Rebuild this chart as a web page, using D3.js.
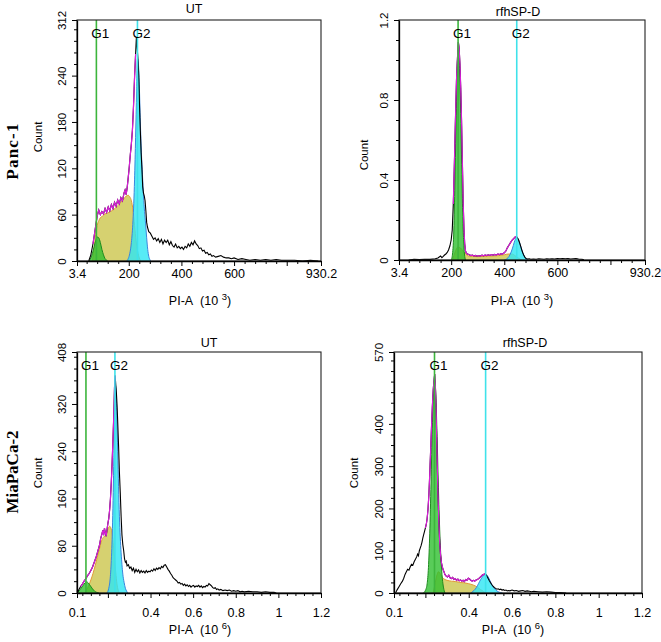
<!DOCTYPE html>
<html><head><meta charset="utf-8">
<script src="https://cdn.jsdelivr.net/npm/d3@7"></script>
<style>
body{margin:0;background:#fff}
svg{display:block}
text{font-family:"Liberation Sans",Arial,sans-serif;fill:#000}
</style>
</head><body>
<svg id="c" width="661" height="642"></svg>
<script>
// ---------------- DATA ----------------
// Panc-1, untreated (x in 10^3)
const panc1UT_hist = [[48,0],[56,8],[64,22],[72,40],[80,58],[86,66],[92,60],[98,64],[104,61],[110,68],[116,63],[122,70],[128,65],[134,73],[140,68],[146,76],[152,71],[158,79],[164,74],[170,82],[176,78],[182,88],[186,92],[190,86],[194,95],[198,108],[202,122],[206,138],[210,152],[214,170],[218,200],[222,238],[226,268],[229,290],[232,275],[235,262],[238,240],[241,200],[244,168],[247,140],[250,120],[253,96],[256,88],[259,84],[262,78],[265,65],[268,50],[271,44],[276,38],[282,36],[288,32],[294,28],[300,30],[306,26],[312,29],[318,24],[324,28],[330,22],[336,27],[342,24],[348,27],[354,21],[360,25],[366,20],[372,18],[378,22],[384,17],[390,19],[396,16],[402,18],[408,15],[414,19],[420,17],[426,22],[432,19],[438,24],[444,21],[450,26],[456,22],[462,20],[468,16],[474,17],[480,13],[486,14],[492,10],[498,11],[504,8],[510,9],[516,6],[522,7],[530,5],[540,6],[550,7],[560,5],[570,4],[580,4],[590,3],[600,4],[615,2],[630,3],[645,2],[660,1],[680,2],[700,1],[720,2],[740,1],[760,2],[780,1],[800,1],[830,1],[860,0],[890,1],[920,0]];
const panc1UT_fitRange = [58, 227];
const panc1UT_g1 = [[50,0],[56,4],[62,10],[68,18],[74,26],[80,31],[86,30],[92,24],[98,15],[104,8],[110,3],[116,1],[120,0]];
const panc1UT_s = [[62,0],[68,16],[74,34],[80,46],[86,52],[92,56],[100,58],[110,61],[120,62],[130,64],[140,66],[150,69],[160,72],[170,76],[180,80],[190,84],[198,85],[204,83],[210,78],[216,66],[222,46],[228,26],[234,12],[240,4],[246,0]];
const panc1UT_g2 = [[192,0],[198,3],[204,10],[210,24],[216,52],[222,105],[226,160],[230,220],[233,262],[236,258],[240,228],[244,180],[248,140],[252,112],[256,84],[260,64],[264,48],[268,30],[272,15],[276,6],[280,2],[284,0]];
const panc1UT_gates = [77, 233];

// Panc-1, rfhSP-D (x in 10^3)
const panc1SP_hist = [[40,0],[60,0.003],[80,0.002],[100,0.004],[120,0.003],[140,0.006],[150,0.01],[160,0.02],[165,0.012],[170,0.018],[175,0.025],[180,0.03],[185,0.038],[190,0.05],[195,0.07],[200,0.1],[204,0.15],[208,0.28],[212,0.48],[216,0.7],[220,0.9],[224,1.02],[227,1.09],[230,1.06],[233,0.98],[236,0.86],[239,0.7],[242,0.5],[245,0.3],[248,0.16],[251,0.08],[254,0.045],[258,0.032],[262,0.03],[268,0.026],[274,0.022],[280,0.024],[286,0.02],[292,0.023],[298,0.019],[304,0.022],[310,0.02],[316,0.024],[322,0.021],[328,0.025],[334,0.022],[340,0.026],[346,0.023],[352,0.027],[358,0.024],[364,0.028],[370,0.025],[376,0.03],[382,0.027],[388,0.032],[394,0.03],[400,0.036],[406,0.045],[412,0.062],[418,0.075],[424,0.088],[430,0.1],[436,0.108],[442,0.116],[446,0.118],[450,0.11],[454,0.1],[458,0.085],[462,0.068],[466,0.05],[470,0.035],[474,0.022],[478,0.013],[482,0.008],[488,0.005],[494,0.006],[500,0.004],[510,0.005],[520,0.004],[530,0.006],[540,0.005],[550,0.004],[560,0.006],[570,0.005],[580,0.006],[590,0.005],[600,0.007],[610,0.006],[620,0.007],[630,0.006],[640,0.007],[650,0.005],[660,0.006],[670,0.007],[680,0.005],[690,0.004],[700,0.002]];
const panc1SP_fitRange = [205, 447];
const panc1SP_g1 = [[200,0],[205,0.03],[210,0.15],[214,0.38],[218,0.65],[222,0.92],[226,1.05],[229,1.04],[232,0.94],[235,0.78],[238,0.58],[241,0.38],[244,0.2],[247,0.09],[250,0.03],[254,0]];
const panc1SP_s = [[205,0],[215,0.04],[225,0.065],[235,0.06],[245,0.045],[255,0.03],[265,0.02],[280,0.018],[300,0.017],[320,0.018],[340,0.019],[360,0.02],[380,0.022],[400,0.026],[415,0.03],[430,0.03],[440,0.022],[450,0.012],[460,0.004],[466,0]];
const panc1SP_g2 = [[400,0],[410,0.006],[418,0.018],[426,0.04],[434,0.072],[440,0.098],[446,0.112],[452,0.106],[458,0.085],[464,0.06],[470,0.036],[476,0.018],[482,0.007],[490,0]];
const panc1SP_gates = [226, 447];

// MiaPaCa-2, untreated (x in 10^6)
const miaUT_hist = [[0.056,0],[0.064,6],[0.072,11],[0.08,15],[0.088,20],[0.096,24],[0.104,29],[0.112,33],[0.12,38],[0.128,44],[0.136,52],[0.144,60],[0.152,70],[0.16,80],[0.166,92],[0.172,100],[0.176,106],[0.18,98],[0.184,110],[0.188,102],[0.192,96],[0.196,108],[0.2,118],[0.204,126],[0.208,140],[0.212,160],[0.216,188],[0.22,222],[0.224,262],[0.228,305],[0.231,348],[0.234,368],[0.237,352],[0.24,338],[0.243,318],[0.246,290],[0.25,250],[0.254,205],[0.258,170],[0.262,130],[0.266,98],[0.27,82],[0.274,72],[0.278,58],[0.282,52],[0.286,54],[0.29,46],[0.296,48],[0.302,42],[0.308,44],[0.314,38],[0.32,42],[0.326,35],[0.332,40],[0.338,36],[0.344,39],[0.35,34],[0.356,38],[0.362,35],[0.368,37],[0.374,34],[0.38,38],[0.386,35],[0.392,37],[0.398,36],[0.404,39],[0.41,37],[0.416,41],[0.422,38],[0.428,42],[0.434,40],[0.44,43],[0.446,41],[0.452,45],[0.458,43],[0.464,47],[0.47,48],[0.476,44],[0.482,40],[0.488,37],[0.494,33],[0.5,30],[0.506,26],[0.512,24],[0.518,22],[0.524,20],[0.53,17],[0.536,18],[0.542,15],[0.548,16],[0.554,13],[0.56,15],[0.566,12],[0.572,14],[0.578,11],[0.584,13],[0.59,10],[0.596,12],[0.602,13],[0.608,10],[0.614,12],[0.62,11],[0.626,13],[0.632,10],[0.638,12],[0.644,9],[0.65,11],[0.656,10],[0.662,13],[0.668,12],[0.674,16],[0.68,14],[0.686,12],[0.692,9],[0.698,8],[0.704,9],[0.71,6],[0.716,7],[0.722,5],[0.73,6],[0.74,4],[0.75,5],[0.76,4],[0.77,5],[0.78,3],[0.79,4],[0.8,3],[0.81,4],[0.82,2],[0.83,3],[0.84,2],[0.86,3],[0.88,2],[0.9,2],[0.92,1],[0.94,2],[0.96,1],[0.98,1],[0.99,0]];
const miaUT_fitRange = [0.068, 0.235];
const miaUT_g1 = [[0.056,0],[0.07,6],[0.082,12],[0.092,17],[0.1,19],[0.108,17],[0.118,12],[0.128,7],[0.138,3],[0.148,1],[0.158,0]];
const miaUT_s = [[0.09,0],[0.1,5],[0.11,13],[0.12,22],[0.13,33],[0.14,46],[0.15,60],[0.16,74],[0.17,88],[0.18,95],[0.19,98],[0.2,108],[0.208,113],[0.214,110],[0.22,100],[0.226,80],[0.232,55],[0.238,30],[0.244,12],[0.25,3],[0.256,0]];
const miaUT_g2 = [[0.196,0],[0.204,8],[0.21,22],[0.216,55],[0.222,120],[0.228,230],[0.232,320],[0.235,352],[0.238,345],[0.242,300],[0.246,240],[0.25,180],[0.254,130],[0.258,95],[0.262,68],[0.266,48],[0.27,32],[0.276,18],[0.282,8],[0.288,3],[0.294,0]];
const miaUT_gates = [0.097, 0.233];

// MiaPaCa-2, rfhSP-D (x in 10^6)
const miaSP_hist = [[0.062,0],[0.07,8],[0.078,15],[0.086,22],[0.094,28],[0.1,35],[0.106,44],[0.112,50],[0.118,56],[0.124,54],[0.13,62],[0.136,68],[0.142,66],[0.148,74],[0.154,80],[0.16,86],[0.164,92],[0.168,88],[0.172,100],[0.176,106],[0.18,112],[0.184,120],[0.188,130],[0.192,138],[0.196,146],[0.2,154],[0.204,162],[0.208,176],[0.212,198],[0.216,232],[0.22,280],[0.224,335],[0.228,390],[0.232,440],[0.236,480],[0.24,505],[0.243,518],[0.246,490],[0.249,440],[0.252,370],[0.255,300],[0.258,235],[0.262,170],[0.266,120],[0.27,90],[0.274,72],[0.278,62],[0.282,55],[0.286,50],[0.29,44],[0.296,40],[0.302,38],[0.308,42],[0.314,36],[0.32,34],[0.326,37],[0.332,32],[0.338,34],[0.344,30],[0.35,33],[0.356,29],[0.362,31],[0.368,28],[0.374,30],[0.38,27],[0.386,32],[0.392,30],[0.398,35],[0.404,33],[0.41,30],[0.416,28],[0.422,30],[0.428,28],[0.434,31],[0.44,32],[0.446,34],[0.452,37],[0.458,40],[0.464,43],[0.47,44],[0.476,46],[0.482,42],[0.488,36],[0.494,30],[0.5,25],[0.506,20],[0.512,16],[0.518,13],[0.524,11],[0.53,9],[0.536,10],[0.542,8],[0.548,9],[0.554,7],[0.56,8],[0.566,6],[0.572,7],[0.578,5],[0.584,6],[0.59,5],[0.6,7],[0.61,5],[0.62,6],[0.63,4],[0.64,5],[0.65,6],[0.66,4],[0.67,5],[0.68,4],[0.69,3],[0.7,4],[0.72,3],[0.74,2],[0.76,3],[0.78,2],[0.8,1],[0.82,1],[0.85,0]];
const miaSP_fitRange = [0.198, 0.478];
const miaSP_g1 = [[0.19,0],[0.2,6],[0.208,22],[0.214,60],[0.22,140],[0.226,260],[0.232,390],[0.238,480],[0.243,505],[0.248,470],[0.254,370],[0.26,250],[0.266,150],[0.272,80],[0.278,35],[0.284,12],[0.29,0]];
const miaSP_s = [[0.236,0],[0.244,20],[0.252,40],[0.26,50],[0.266,48],[0.272,42],[0.28,36],[0.29,32],[0.3,30],[0.32,28],[0.34,27],[0.36,25],[0.38,24],[0.4,22],[0.42,19],[0.44,14],[0.455,8],[0.47,3],[0.48,0]];
const miaSP_g2 = [[0.41,0],[0.42,4],[0.43,9],[0.44,17],[0.45,27],[0.46,36],[0.47,42],[0.478,44],[0.486,41],[0.494,34],[0.502,25],[0.51,17],[0.52,10],[0.53,5],[0.54,2],[0.556,0]];
const miaSP_gates = [0.242, 0.478];

// axes / ticks
const xDomainK = [3.4, 930.2];
const xTicksK = [3.4, 200, 400, 600, 800, 930.2];
const xLabelsK = ["3.4", "200", "400", "600", "", "930.2"];
const xDomainM = [0.055, 1.2];
const xTicksM = [0.055, 0.2, 0.4, 0.6, 0.8, 1.0, 1.2];
const xLabelsM = ["0.1", "", "0.4", "0.6", "0.8", "1", "1.2"];
const yTicksPancUT = [0, 60, 120, 180, 240, 312];
const yTicksPancSP = [0, 0.4, 0.8, 1.2];
const yTicksMiaUT = [0, 80, 160, 240, 320, 408];
const yTicksMiaSP = [0, 100, 200, 300, 400, 570];
const titles = ["UT", "rfhSP-D", "UT", "rfhSP-D"];
const rowLabels = ["Panc-1", "MiaPaCa-2"];
const gateNames = ["G1", "G2"];

// ---------------- DRAW ----------------
const svg = d3.select("#c");

const panels = [
  {hist: panc1UT_hist, fit: panc1UT_fitRange, g1: panc1UT_g1, s: panc1UT_s, g2: panc1UT_g2, gates: panc1UT_gates,
   xDom: xDomainK, xT: xTicksK, xL: xLabelsK, xMinor: 40, yT: yTicksPancUT, yMinor: 15, title: titles[0], exp: "3",
   l: 77, r: 321, t: 20, b: 261, titleX: 194, titleY: 13, countX: 42, countY: 137, labX: 200, labY: 305, tickDy: 17},
  {hist: panc1SP_hist, fit: panc1SP_fitRange, g1: panc1SP_g1, s: panc1SP_s, g2: panc1SP_g2, gates: panc1SP_gates,
   xDom: xDomainK, xT: xTicksK, xL: xLabelsK, xMinor: 40, yT: yTicksPancSP, yMinor: 0.1, title: titles[1], exp: "3",
   l: 399, r: 645, t: 20, b: 260, titleX: 518, titleY: 16, countX: 368, countY: 155, labX: 522, labY: 305, tickDy: 17},
  {hist: miaUT_hist, fit: miaUT_fitRange, g1: miaUT_g1, s: miaUT_s, g2: miaUT_g2, gates: miaUT_gates,
   xDom: xDomainM, xT: xTicksM, xL: xLabelsM, xMinor: 0.04, yT: yTicksMiaUT, yMinor: 20, title: titles[2], exp: "6",
   l: 77, r: 321, t: 352, b: 593, titleX: 209, titleY: 347, countX: 42, countY: 473, labX: 200, labY: 634, tickDy: 24},
  {hist: miaSP_hist, fit: miaSP_fitRange, g1: miaSP_g1, s: miaSP_s, g2: miaSP_g2, gates: miaSP_gates,
   xDom: xDomainM, xT: xTicksM, xL: xLabelsM, xMinor: 0.04, yT: yTicksMiaSP, yMinor: 25, title: titles[3], exp: "6",
   l: 394, r: 642, t: 352, b: 593, titleX: 525, titleY: 347, countX: 358, countY: 473, labX: 513, labY: 634, tickDy: 24}
];

function minorTicks(dom, step, majors) {
  const out = [];
  const start = Math.ceil(dom[0] / step - 1e-9);
  for (let k = start; k * step <= dom[1] + 1e-9; k++) {
    const v = +(k * step).toFixed(6);
    if (v < dom[0] - 1e-9) continue;
    if (majors.some(m => Math.abs(m - v) < step * 0.3)) continue;
    out.push(v);
  }
  return out;
}

panels.forEach((p, idx) => {
  const g = svg.append("g");
  const yDom = [0, p.yT[p.yT.length - 1]];
  const x = d3.scaleLinear().domain(p.xDom).range([p.l, p.r]);
  const y = d3.scaleLinear().domain(yDom).range([p.b, p.t]);

  const clipId = "clip" + idx;
  g.append("clipPath").attr("id", clipId).append("rect")
    .attr("x", p.l).attr("y", p.t).attr("width", p.r - p.l).attr("height", p.b - p.t);
  const plot = g.append("g").attr("clip-path", `url(#${clipId})`);

  const area = d3.area().x(d => x(d[0])).y0(y(0)).y1(d => y(d[1])).curve(d3.curveMonotoneX);
  const topLine = d3.line().x(d => x(d[0])).y(d => y(d[1])).curve(d3.curveMonotoneX);
  const line = d3.line().x(d => x(d[0])).y(d => y(d[1]));

  // S phase (yellow)
  plot.append("path").datum(p.s).attr("d", area).attr("fill", "#d4cf68").attr("opacity", 0.95);
  plot.append("path").datum(p.s).attr("d", topLine).attr("fill", "none").attr("stroke", "#e39a36").attr("stroke-width", 1);
  // G1 (green)
  plot.append("path").datum(p.g1).attr("d", area).attr("fill", "#2fbf2f").attr("opacity", 0.8);
  plot.append("path").datum(p.g1).attr("d", topLine).attr("fill", "none").attr("stroke", "#1f8a1f").attr("stroke-width", 1);
  // G2 (cyan)
  plot.append("path").datum(p.g2).attr("d", area).attr("fill", "#2de6f4").attr("opacity", 0.8);
  plot.append("path").datum(p.g2).attr("d", topLine).attr("fill", "none").attr("stroke", "#3a86dd").attr("stroke-width", 1);

  // data histogram
  plot.append("path").datum(p.hist).attr("d", line).attr("fill", "none").attr("stroke", "#000").attr("stroke-width", 1.1);
  // model fit (magenta)
  const fitPts = p.hist.filter(d => d[0] >= p.fit[0] && d[0] <= p.fit[1]);
  plot.append("path").datum(fitPts).attr("d", line).attr("fill", "none").attr("stroke", "#d81ed8").attr("stroke-width", 1.2);

  // gates
  const gateCol = ["#3db53d", "#3fe2ea"];
  p.gates.forEach((gv, i) => {
    plot.append("line").attr("x1", x(gv)).attr("x2", x(gv)).attr("y1", p.t).attr("y2", p.b)
      .attr("stroke", gateCol[i]).attr("stroke-width", 1.6);
    g.append("text").attr("x", x(gv) + 4).attr("y", p.t + 18).attr("text-anchor", "middle")
      .attr("font-size", 13.5).text(gateNames[i]);
  });

  // frame
  g.append("rect").attr("x", p.l).attr("y", p.t).attr("width", p.r - p.l).attr("height", p.b - p.t)
    .attr("fill", "none").attr("stroke", "#222").attr("stroke-width", 1.1);

  // x axis
  const xAx = g.append("g").attr("transform", `translate(0,${p.b})`)
    .call(d3.axisBottom(x).tickValues(p.xT).tickFormat((d, i) => p.xL[i]).tickSize(5).tickSizeOuter(0));
  xAx.selectAll("text").attr("y", p.tickDy).attr("dy", 0).attr("font-size", 12.5).style("font-family", '"Liberation Sans",Arial,sans-serif');
  const xMin = g.append("g").attr("transform", `translate(0,${p.b})`)
    .call(d3.axisBottom(x).tickValues(minorTicks(p.xDom, p.xMinor, p.xT)).tickFormat("").tickSize(3).tickSizeOuter(0));
  xMin.select(".domain").remove();

  // y axis
  const yAx = g.append("g").attr("transform", `translate(${p.l},0)`)
    .call(d3.axisLeft(y).tickValues(p.yT).tickFormat(d => String(d)).tickSize(5).tickSizeOuter(0));
  yAx.selectAll("text").attr("transform", "rotate(-90)").attr("x", 0).attr("y", -11).attr("dy", 0)
    .attr("text-anchor", "middle").attr("font-size", 11.5).style("font-family", '"Liberation Sans",Arial,sans-serif');
  const yMin = g.append("g").attr("transform", `translate(${p.l},0)`)
    .call(d3.axisLeft(y).tickValues(minorTicks(yDom, p.yMinor, p.yT)).tickFormat("").tickSize(3).tickSizeOuter(0));
  yMin.select(".domain").remove();
  g.selectAll(".domain").attr("stroke", "#000").attr("stroke-width", 1.3);
  g.selectAll(".tick line").attr("stroke", "#000");

  // title
  g.append("text").attr("x", p.titleX).attr("y", p.titleY).attr("text-anchor", "middle").attr("font-size", 12.5).text(p.title);
  // Count label
  g.append("text").attr("transform", `translate(${p.countX},${p.countY}) rotate(-90)`).attr("text-anchor", "middle")
    .attr("font-size", 11.5).text("Count");
  // x label
  const xl = g.append("text").attr("x", p.labX).attr("y", p.labY).attr("text-anchor", "middle").attr("font-size", 12.5);
  xl.append("tspan").text("PI-A\u00A0\u00A0(10\u00A0");
  xl.append("tspan").attr("dy", -5).attr("font-size", 9.5).text(p.exp);
  xl.append("tspan").attr("dy", 5).text(")");
});

// row labels
const rowY = [151, 472];
const rowSpacing = [1.2, 0];
rowLabels.forEach((t, i) => {
  svg.append("text").attr("transform", `translate(17.5,${rowY[i]}) rotate(-90)`).attr("text-anchor", "middle")
    .style("font-family", '"Liberation Serif","Times New Roman",serif').attr("font-weight", "bold")
    .style("letter-spacing", rowSpacing[i] + "px")
    .attr("font-size", 17).text(t);
});
</script>
</body></html>
